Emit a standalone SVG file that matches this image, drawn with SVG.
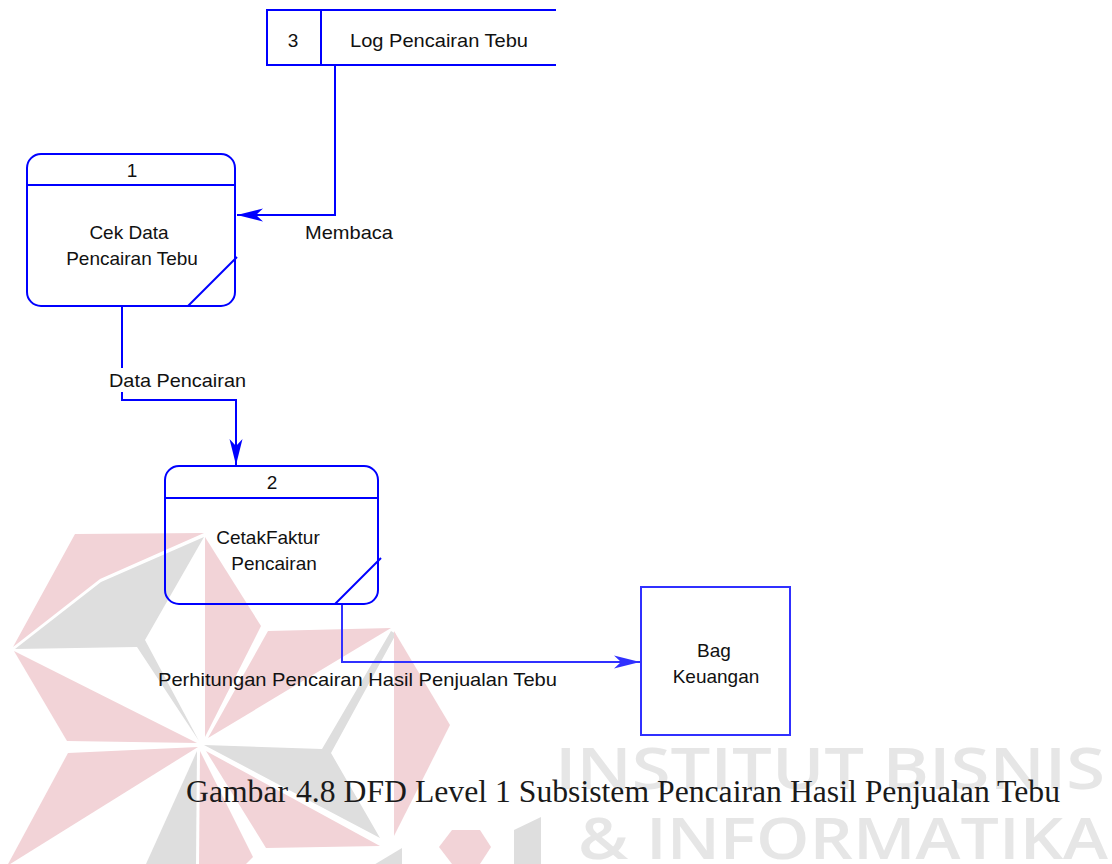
<svg xmlns="http://www.w3.org/2000/svg" width="1112" height="864" viewBox="0 0 1112 864">
  <defs>
    <marker id="arrow" viewBox="-27 -7 28 14" refX="0" refY="0" markerWidth="28" markerHeight="14" markerUnits="userSpaceOnUse" orient="auto">
      <path d="M0,0 L-26,-6.5 L-19,0 L-26,6.5 Z" fill="#0000ff"/>
    </marker>
    <marker id="arrowLight" viewBox="-27 -7 28 14" refX="0" refY="0" markerWidth="28" markerHeight="14" markerUnits="userSpaceOnUse" orient="auto">
      <path d="M0,0 L-26,-6.5 L-19,0 L-26,6.5 Z" fill="#3030ff"/>
    </marker>
    <style>
      .lbl { font-family: "Liberation Sans", Arial, sans-serif; font-size: 19px; fill: #111; }
      .mid { text-anchor: middle; }
      .shape { fill: none; stroke: #0000ff; stroke-width: 2; }
      .shape-lt { fill: none; stroke: #3030ff; stroke-width: 2; }
      .flow { fill: none; stroke: #0000ff; stroke-width: 2; }
      .flow-lt { fill: none; stroke: #3030ff; stroke-width: 2; }
      .wm-pink { fill: #f2d3d7; }
      .wm-gray { fill: #dedede; }
      .wm-text { font-family: "Open Sans", "DejaVu Sans", sans-serif; font-weight: 600; font-size: 58px; fill: #e6e6e6; }
      .caption { font-family: "Liberation Serif", "Times New Roman", serif; font-size: 31.5px; fill: #1a1a1a; }
    </style>
  </defs>

  <rect width="1112" height="864" fill="#ffffff"/>

  <!-- background logo mark and institute name -->
  <g id="watermark">
    <polygon class="wm-pink" points="75,534 204,533 100,579 13,647"/>
    <polygon class="wm-gray" points="15,649 101,582 204,537 145,640 199,741 137,647"/>
    <polygon class="wm-pink" points="14,651 197,743 67,741"/>
    <polygon class="wm-pink" points="205,537 261,626 205,737"/>
    <polygon class="wm-pink" points="268,631 391,628 208,738"/>
    <polygon class="wm-gray" points="204,745 322,749 391,631 396,634 331,753 380,838"/>
    <polygon class="wm-pink" points="206,751 380,846 266,848"/>
    <polygon class="wm-pink" points="200,751 253,857 246,864 199,864"/>
    <polygon class="wm-gray" points="197,751 146,864 196,864"/>
    <polygon class="wm-pink" points="68,753 198,747 7,866"/>
    <polygon class="wm-pink" points="394,631 450,725 394,836"/>
    <polygon class="wm-gray" points="372,866 402,848 402,866"/>
    <polygon class="wm-pink" points="452,830 480,830 491,847 480,864 452,864 439,847"/>
    <polygon class="wm-gray" points="514,830 541,817 541,864 514,864"/>
    <text class="wm-text" x="555" y="789" textLength="550" lengthAdjust="spacingAndGlyphs">INSTITUT BISNIS</text>
    <text class="wm-text" x="578" y="859" textLength="530" lengthAdjust="spacingAndGlyphs">&amp; INFORMATIKA</text>
  </g>

  <!-- data flows -->
  <g id="connectors">
    <polyline class="flow" points="335,65 335,215 237,215" marker-end="url(#arrow)"/>
    <text class="lbl" x="305" y="239" textLength="88" lengthAdjust="spacingAndGlyphs">Membaca</text>

    <polyline class="flow" points="122,306 122,400 236,400 236,465" marker-end="url(#arrow)"/>
    <rect x="107" y="368" width="141" height="24" fill="#ffffff"/>
    <text class="lbl" x="109" y="387" textLength="137" lengthAdjust="spacingAndGlyphs">Data Pencairan</text>

    <polyline class="flow-lt" points="342,604 342,662 640,662" marker-end="url(#arrowLight)"/>
    <text class="lbl" x="158" y="686" textLength="399" lengthAdjust="spacingAndGlyphs" fill="#1a1a1a">Perhitungan Pencairan Hasil Penjualan Tebu</text>
  </g>

  <!-- data store 3 -->
  <g id="store-3">
    <path class="shape" d="M556,10 H267 V65 H556 M321,10 V65"/>
    <text class="lbl mid" x="293" y="47">3</text>
    <text class="lbl" x="350" y="47" textLength="178" lengthAdjust="spacingAndGlyphs">Log Pencairan Tebu</text>
  </g>

  <!-- process 1 -->
  <g id="process-1">
    <rect class="shape" x="27" y="154" width="208" height="152" rx="14" ry="14"/>
    <line class="shape" x1="27" y1="185" x2="235" y2="185"/>
    <line class="shape" x1="188" y1="306" x2="237" y2="257"/>
    <text class="lbl mid" x="132" y="177">1</text>
    <text class="lbl mid" x="129" y="239">Cek Data</text>
    <text class="lbl mid" x="132" y="265">Pencairan Tebu</text>
  </g>

  <!-- process 2 -->
  <g id="process-2">
    <rect class="shape" x="165" y="466" width="213" height="138" rx="14" ry="14"/>
    <line class="shape" x1="165" y1="498" x2="378" y2="498"/>
    <line class="shape" x1="335" y1="604" x2="381" y2="558"/>
    <text class="lbl mid" x="272" y="489">2</text>
    <text class="lbl mid" x="268" y="544">CetakFaktur</text>
    <text class="lbl mid" x="274" y="570">Pencairan</text>
  </g>

  <!-- external entity -->
  <g id="bag-keuangan">
    <rect class="shape-lt" x="641" y="587" width="149" height="148"/>
    <text class="lbl mid" x="714" y="657">Bag</text>
    <text class="lbl mid" x="716" y="683">Keuangan</text>
  </g>

  <!-- figure caption -->
  <g id="caption">
    <text class="caption" x="186" y="802" textLength="874" lengthAdjust="spacingAndGlyphs">Gambar 4.8 DFD Level 1 Subsistem Pencairan Hasil Penjualan Tebu</text>
  </g>
</svg>
